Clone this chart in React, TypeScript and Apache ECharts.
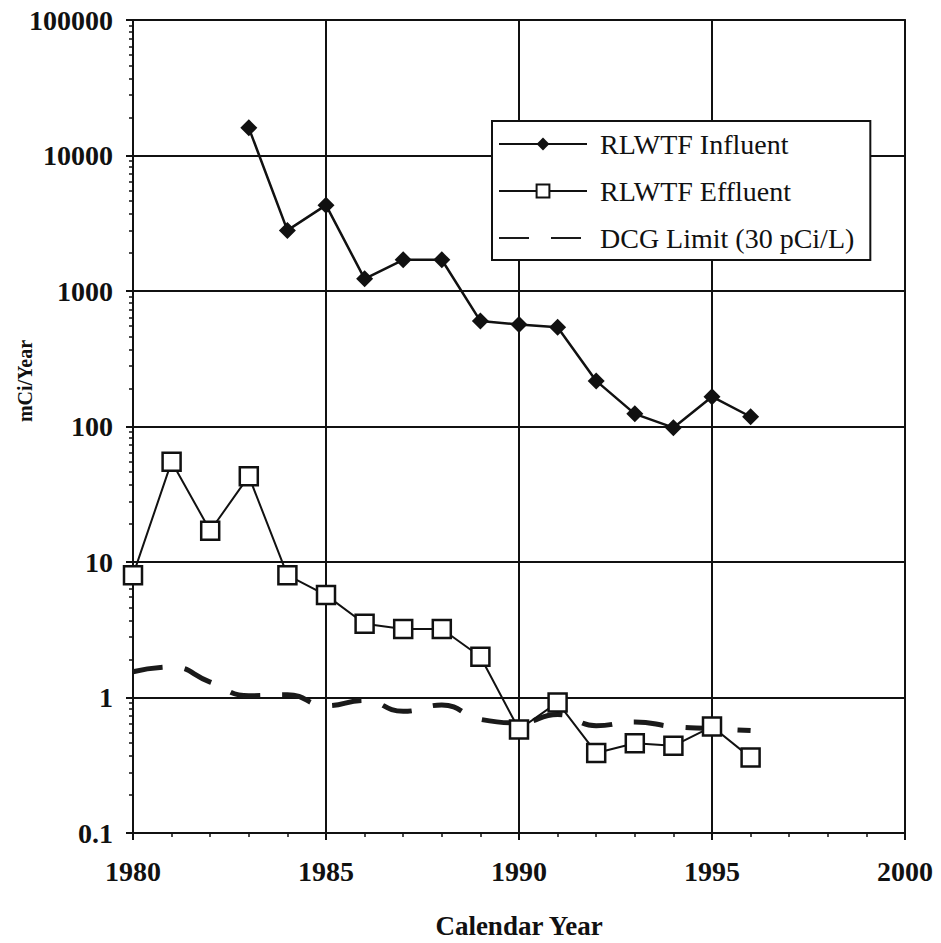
import React, { useEffect, useRef } from "react";
import * as echarts from "echarts";

const influentYears = [1983, 1984, 1985, 1986, 1987, 1988, 1989, 1990, 1991, 1992, 1993, 1994, 1995, 1996];
const influentValues = [16000, 2800, 4300, 1230, 1700, 1700, 600, 565, 540, 217, 124, 98, 166, 118];

const effluentYears = [1980, 1981, 1982, 1983, 1984, 1985, 1986, 1987, 1988, 1989, 1990, 1991, 1992, 1993, 1994, 1995, 1996];
const effluentValues = [8, 55, 17, 43, 8, 5.7, 3.5, 3.2, 3.2, 2.0, 0.58, 0.92, 0.39, 0.46, 0.44, 0.61, 0.36];

const dcgYears = [1980, 1981, 1982, 1983, 1984, 1985, 1986, 1987, 1988, 1989, 1990, 1991, 1992, 1993, 1994, 1995, 1996];
const dcgValues = [1.55, 1.68, 1.3, 1.03, 1.05, 0.87, 0.95, 0.79, 0.88, 0.69, 0.65, 0.75, 0.62, 0.66, 0.61, 0.59, 0.57];

const seriesNames = ["RLWTF Influent", "RLWTF Effluent", "DCG Limit (30 pCi/L)"];
const xLabelYears = [1980, 1985, 1990, 1995, 2000];
const yAxisTitle = "mCi/Year";

const FONT = "'Liberation Serif', 'Times New Roman', serif";

function pairs(xs: number[], ys: number[]) {
  return xs.map((x, i) => [x, ys[i]]);
}

export default function App() {
  const ref = useRef<HTMLDivElement>(null);
  useEffect(() => {
    if (!ref.current) return;
    const chart = echarts.init(ref.current, undefined, { renderer: "svg" });
    chart.setOption({
      animation: false,
      backgroundColor: "#fff",
      grid: {
        left: 133,
        right: 36,
        top: 20,
        bottom: 110,
        show: true,
        borderColor: "#222",
        borderWidth: 2,
        containLabel: false,
        outerBoundsMode: "none",
      },
      graphic: [
        {
          type: "text",
          x: 25,
          y: 381,
          rotation: Math.PI / 2,
          style: {
            text: yAxisTitle,
            fontFamily: FONT,
            fontSize: 20,
            fontWeight: "bold",
            fill: "#111",
            align: "center",
            verticalAlign: "middle",
          },
        },
      ],
      legend: {
        data: seriesNames,
        orient: "vertical",
        left: 492,
        top: 121,
        padding: [8, 16, 7, 6],
        itemWidth: 88,
        itemHeight: 16,
        itemGap: 17,
        backgroundColor: "#fff",
        borderColor: "#111",
        borderWidth: 2,
        borderRadius: 0,
        textStyle: {
          fontFamily: FONT,
          fontSize: 28,
          lineHeight: 30,
          color: "#111",
          padding: [0, 0, 0, 8],
        },
      },
      xAxis: {
        type: "value",
        min: 1980,
        max: 2000,
        interval: 5,
        name: "Calendar Year",
        nameLocation: "middle",
        nameGap: 79,
        nameTextStyle: { fontFamily: FONT, fontSize: 27, fontWeight: "bold", color: "#111" },
        axisLine: { show: true, onZero: false, lineStyle: { color: "#111", width: 2 } },
        axisTick: { show: true, length: 7, lineStyle: { color: "#111", width: 2 } },
        minorTick: { show: true, splitNumber: 5, length: 4, lineStyle: { color: "#111", width: 1.5 } },
        splitLine: { show: true, lineStyle: { color: "#111", width: 2 } },
        axisLabel: {
          fontFamily: FONT,
          fontSize: 28,
          fontWeight: "bold",
          color: "#111",
          margin: 24,
          formatter: (v: number) => (xLabelYears.includes(v) ? String(v) : ""),
        },
      },
      yAxis: {
        type: "log",
        logBase: 10,
        min: 0.1,
        max: 100000,
        axisLine: { show: true, lineStyle: { color: "#111", width: 2 } },
        axisTick: { show: true, length: 7, lineStyle: { color: "#111", width: 2 } },
        minorTick: { show: true, splitNumber: 10, length: 4, lineStyle: { color: "#111", width: 1.5 } },
        splitLine: { show: true, lineStyle: { color: "#111", width: 2 } },
        axisLabel: {
          fontFamily: FONT,
          fontSize: 28,
          fontWeight: "bold",
          color: "#111",
          margin: 20,
          formatter: (v: number) => String(parseFloat(Number(v).toPrecision(6))),
        },
      },
      series: [
        {
          name: seriesNames[2],
          type: "line",
          data: pairs(dcgYears, dcgValues),
          smooth: true,
          symbol: "circle",
          symbolSize: 0,
          showSymbol: false,
          lineStyle: { color: "#1a1a1a", width: 5, type: [30, 22] },
          itemStyle: { color: "transparent", borderWidth: 0, opacity: 0 },
          z: 3,
        },
        {
          name: seriesNames[0],
          type: "line",
          data: pairs(influentYears, influentValues),
          symbol: "diamond",
          symbolSize: 17,
          lineStyle: { color: "#111", width: 2.5 },
          itemStyle: { color: "#111" },
          z: 4,
        },
        {
          name: seriesNames[1],
          type: "line",
          data: pairs(effluentYears, effluentValues),
          symbol: "rect",
          symbolSize: 18,
          lineStyle: { color: "#111", width: 2 },
          itemStyle: { color: "#fff", borderColor: "#111", borderWidth: 2.5 },
          z: 5,
        },
      ],
    });
    return () => chart.dispose();
  }, []);
  return (
    <div
      ref={ref}
      style={{ position: "absolute", left: 0, top: 0, width: 941, height: 943 }}
    />
  );
}
